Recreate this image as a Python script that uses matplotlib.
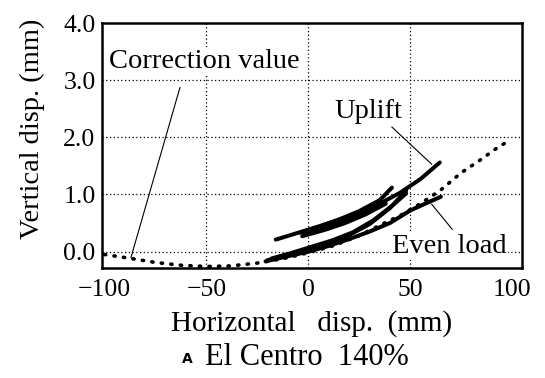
import numpy as np
import matplotlib
matplotlib.use("Agg")
import matplotlib.pyplot as plt

plt.rcParams["font.family"] = ["Liberation Serif", "DejaVu Serif"]

# ---- DATA ----
# correction value curve (dotted)
corr_x = [-100, -87, -75, -62, -50, -38, -25, -12, 0, 12, 25, 35, 45, 55, 65, 75, 85, 92, 96.5]
corr_y = [-0.05, -0.12, -0.19, -0.24, -0.26, -0.25, -0.2, -0.12, -0.02, 0.1, 0.28, 0.46,
          0.63, 0.84, 1.08, 1.38, 1.62, 1.8, 1.9]

# measured branches (thick)
even_x = [-21, -10, 0, 10, 20, 30, 40, 50, 58, 65]
even_y = [-0.17, -0.08, 0.0, 0.1, 0.22, 0.35, 0.5, 0.72, 0.85, 0.96]

uplift_x = [-16, -5, 5, 15, 25, 35, 45, 55, 64.5]
uplift_y = [0.21, 0.33, 0.44, 0.56, 0.69, 0.84, 1.03, 1.27, 1.56]

mid1_x = [-20, -10, 0, 10, 20, 30, 40, 48]
mid1_y = [-0.15, -0.06, 0.04, 0.15, 0.29, 0.48, 0.76, 1.07]

mid2_x = [-18, -8, 2, 12, 22, 32, 42, 48]
mid2_y = [-0.12, -0.02, 0.09, 0.2, 0.34, 0.55, 0.83, 1.02]

short1_x = [-4, 5, 15, 25, 35, 41]
short1_y = [0.33, 0.43, 0.56, 0.71, 0.9, 1.12]

short2_x = [-3, 8, 18, 28, 38]
short2_y = [0.27, 0.38, 0.5, 0.65, 0.84]

short3_x = [-2, 8, 18, 28, 36]
short3_y = [0.3, 0.41, 0.53, 0.68, 0.85]

loops = [
    (even_x, even_y), (uplift_x, uplift_y), (mid1_x, mid1_y), (mid2_x, mid2_y),
    (short1_x, short1_y), (short2_x, short2_y), (short3_x, short3_y),
]

xticks = [-100, -50, 0, 50, 100]
yticks = [0.0, 1.0, 2.0, 3.0, 4.0]

# ---- PLOT ----
fig = plt.figure(figsize=(5.45, 3.78), dpi=100)
ax = fig.add_axes([0.188, 0.292, 0.769, 0.647])

ax.plot(corr_x, corr_y, color="black", lw=2.6, linestyle=(0, (0.35, 2.3)),
        dash_capstyle="round", zorder=3)
for lx, ly in loops:
    ax.plot(lx, ly, color="black", lw=2.9, solid_capstyle="round", zorder=4)

ax.set_xlim(-101, 104.6)
ax.set_ylim(-0.28, 4.0)
ax.set_xticks(xticks)
ax.set_xticklabels(["\u2212100", "\u221250", "0", "50", "100"])
ax.set_yticks(yticks)
ax.set_yticklabels(["%.1f" % v for v in yticks])
ax.tick_params(length=0, labelsize=18.5)
ax.tick_params(axis="x", pad=8)
ax.tick_params(axis="y", pad=5)

for v in [-50, 0, 50]:
    ax.axvline(v, color="black", lw=0.9, linestyle=(0, (1, 2)), zorder=1)
for v in [0, 1, 2, 3]:
    ax.axhline(v, color="black", lw=0.9, linestyle=(0, (1, 2)), zorder=1)

for s in ax.spines.values():
    s.set_linewidth(1.8)

ax.set_xlabel("Horizontal   disp.  (mm)", fontsize=21, labelpad=7)
ax.set_ylabel("Vertical disp. (mm)", fontsize=20.5)
ax.yaxis.set_label_coords(-0.137, 0.569)

# annotations
box = dict(facecolor="white", edgecolor="none", pad=1)
ax.text(-98, 3.33, "Correction value", fontsize=20.5, va="center", ha="left",
        bbox=box, zorder=5)
ax.plot([-63, -87], [2.87, -0.1], color="black", lw=0.8, zorder=5)

ax.text(13, 2.33, "Uplift", fontsize=20.5, va="baseline", ha="left", zorder=5)
ax.plot([41, 60.5], [2.18, 1.53], color="black", lw=0.8, zorder=5)

ax.text(41, 0.09, "Even load", fontsize=20.5, va="center", ha="left",
        bbox=box, zorder=5)
ax.plot([60.5, 70.6], [0.83, 0.39], color="black", lw=0.8, zorder=5)

# caption
fig.text(0.343, 0.040, "A", fontsize=10, fontweight="bold", family="DejaVu Sans",
         ha="center", va="baseline")
fig.text(0.376, 0.034, "El Centro  140%", fontsize=22, ha="left", va="baseline")

fig.savefig("out.png", dpi=100)
